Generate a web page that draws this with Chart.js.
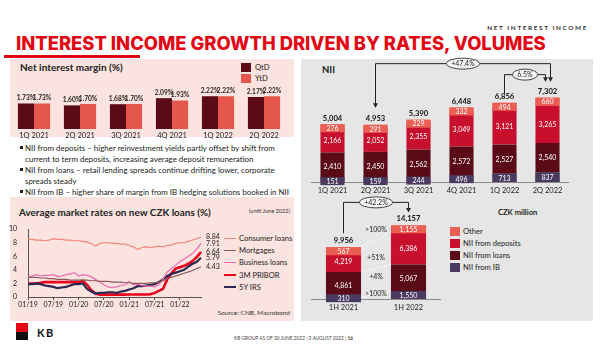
<!DOCTYPE html>
<html><head><meta charset="utf-8">
<script src="https://cdn.jsdelivr.net/npm/chart.js@4.4.0/dist/chart.umd.min.js"></script>
<style>
html,body{margin:0;padding:0}
body{width:600px;height:360px;position:relative;overflow:hidden;background:#fff;font-family:Lato,"Liberation Sans",sans-serif;color:#222}
.a{position:absolute;white-space:nowrap}
canvas{position:absolute}
.sq{position:absolute;width:10px;height:9px}
.lg{position:absolute;font-size:7.6px;line-height:10px}
.ln{position:absolute;width:12px}
.bul{position:absolute;font-size:7.7px;line-height:10px}
.dot{position:absolute;width:3px;height:3px;background:#222}
</style></head>
<body>
<div class="a" id="kicker" style="right:12px;top:24px;font-size:6.4px;font-weight:700;letter-spacing:1.6px;color:#333">NET INTEREST INCOME</div>
<div class="a" id="title" data-w="530" style="left:16px;top:33px;font-family:Inter,sans-serif;font-weight:800;font-size:18px;line-height:20px;color:#e30613">INTEREST INCOME GROWTH DRIVEN BY RATES, VOLUMES</div>
<div class="a" style="left:4px;top:55px;width:136px;height:3px;background:#e30613"></div>

<div class="a" style="left:10px;top:59px;width:284px;height:78px;background:#fbe3df"></div>
<div class="a" id="nimTitle" data-w="103" style="left:20px;top:61px;font-size:9.5px;font-weight:700;line-height:12px">Net interest margin (%)</div>
<div class="sq" style="left:241px;top:63px;background:#5a0b17"></div><div class="lg" style="left:255px;top:62px">QtD</div>
<div class="sq" style="left:241px;top:74px;background:#e5564b"></div><div class="lg" style="left:255px;top:73px">YtD</div>

<div class="dot" style="left:20px;top:146px"></div>
<div class="bul" id="b1" style="left:25px;top:143px">NII from deposits – higher reinvestment yields partly offset by shift from</div>
<div class="bul b" style="left:25px;top:154px">current to term deposits, increasing average deposit remuneration</div>
<div class="dot" style="left:20px;top:168px"></div>
<div class="bul b" style="left:25px;top:165px">NII from loans – retail lending spreads continue drifting lower, corporate</div>
<div class="bul b" style="left:25px;top:176px">spreads steady</div>
<div class="dot" style="left:20px;top:190px"></div>
<div class="bul b" style="left:25px;top:187px">NII from IB – higher share of margin from IB hedging solutions booked in NII</div>

<div class="a" style="left:10px;top:197px;width:284px;height:124px;background:#fbe3df"></div>
<div class="a" id="rateTitle" data-w="192" style="left:19px;top:206px;font-size:9.5px;font-weight:700;line-height:12px">Average market rates on new CZK loans (%)</div>
<div class="a" style="right:310px;top:207px;font-size:5.6px;line-height:7px;color:#333">(until June 2022)</div>
<div class="ln" style="left:224px;top:237.5px;height:1.2px;background:#f08676"></div><div class="lg" style="left:239px;top:233px">Consumer loans</div>
<div class="ln" style="left:224px;top:249.5px;height:1.2px;background:#8c5a5d"></div><div class="lg" style="left:239px;top:245px">Mortgages</div>
<div class="ln" style="left:224px;top:261.5px;height:1.2px;background:#f068ad"></div><div class="lg" style="left:239px;top:257px">Business loans</div>
<div class="ln" style="left:224px;top:273.5px;height:2.5px;background:#e8001c"></div><div class="lg" style="left:239px;top:269.5px">3M PRIBOR</div>
<div class="ln" style="left:224px;top:285.5px;height:2.2px;background:#2b2750"></div><div class="lg" style="left:239px;top:281.5px">5Y IRS</div>
<div class="a" style="right:310px;top:309px;font-size:6.5px;line-height:8px;color:#333">Source: CNB, Macrobond</div>

<div class="a" style="left:301px;top:59px;width:292px;height:262px;background:#e6e6e6"></div>
<div class="a" style="left:322px;top:64px;font-size:9.5px;font-weight:700;line-height:12px">NII</div>
<div class="a" style="left:498px;top:207px;font-size:7.6px;font-weight:700;line-height:10px">CZK million</div>
<div class="sq" style="left:450px;top:226.5px;background:#ec5d52"></div><div class="lg" style="left:463px;top:226px">Other</div>
<div class="sq" style="left:450px;top:238.5px;background:#c8102e"></div><div class="lg" style="left:463px;top:238px">NII from deposits</div>
<div class="sq" style="left:450px;top:250.5px;background:#5a0b17"></div><div class="lg" style="left:463px;top:250px">NII from loans</div>
<div class="sq" style="left:450px;top:262.5px;background:#4b3a5f"></div><div class="lg" style="left:463px;top:262px">NII from IB</div>

<canvas id="nim" width="276" height="56" style="left:11px;top:84px"></canvas>
<canvas id="nii" width="258" height="142" style="left:311px;top:54px"></canvas>
<canvas id="half" width="130" height="121" style="left:311px;top:192px"></canvas>
<canvas id="rates" width="219" height="86" style="left:6px;top:222px"></canvas>

<div class="a" style="left:16px;top:323px;width:12px;height:8.5px;background:#e30613"></div>
<div class="a" style="left:16px;top:331.5px;width:12px;height:8.5px;background:#111"></div>
<div class="a" style="left:37px;top:326px;font-size:11px;font-weight:700;letter-spacing:1.5px;line-height:13px;color:#111">KB</div>
<div class="a" style="left:234px;top:335px;font-size:4.8px;line-height:6px;color:#444">KB GROUP AS OF 30 JUNE 2022 | 3 AUGUST 2022 | <b>16</b></div>

<script>
// ---------- DATA ----------
const nimCategories = ['1Q 2021','2Q 2021','3Q 2021','4Q 2021','1Q 2022','2Q 2022'];
const nimQtD = [1.73, 1.60, 1.68, 2.09, 2.22, 2.17];
const nimYtD = [1.73, 1.70, 1.70, 1.93, 2.22, 2.22];

const niiQuarters = ['1Q 2021','2Q 2021','3Q 2021','4Q 2021','1Q 2022','2Q 2022'];
const niiIB       = [151, 159, 244, 496, 713, 837];
const niiLoans    = [2410, 2450, 2562, 2572, 2527, 2540];
const niiDeposits = [2166, 2052, 2355, 3049, 3121, 3265];
const niiOther    = [276, 291, 229, 332, 494, 660];
const niiTotals   = [5004, 4953, 5390, 6448, 6856, 7302];
const niiGrowthLong = '+47.4%';
const niiGrowthQoQ  = '6.5%';

const halfYears   = ['1H 2021','1H 2022'];
const halfIB       = [310, 1550];
const halfLoans    = [4861, 5067];
const halfDeposits = [4219, 6386];
const halfOther    = [567, 1155];
const halfTotals   = [9956, 14157];
const halfGrowth   = '+42.2%';
const halfChanges  = ['>100%', '+4%', '+51%', '>100%']; // IB, loans, deposits, other

const rateMonths = ['01/19','02/19','03/19','04/19','05/19','06/19','07/19','08/19','09/19','10/19','11/19','12/19',
  '01/20','02/20','03/20','04/20','05/20','06/20','07/20','08/20','09/20','10/20','11/20','12/20',
  '01/21','02/21','03/21','04/21','05/21','06/21','07/21','08/21','09/21','10/21','11/21','12/21',
  '01/22','02/22','03/22','04/22','05/22','06/22'];
const consumerLoans = [8.5,8.5,8.4,8.4,8.3,8.4,8.6,8.5,8.5,8.4,8.4,8.3,
  8.3,8.2,8.1,7.9,7.5,7.9,8.0,8.0,7.9,7.9,7.8,7.8,
  7.6,7.4,7.0,7.3,7.4,7.3,7.4,7.5,7.4,7.6,7.7,7.9,
  8.0,8.0,8.2,8.4,8.6,8.84];
const mortgages = [2.9,2.9,2.9,2.8,2.8,2.7,2.7,2.6,2.6,2.6,2.5,2.5,
  2.5,2.5,2.5,2.4,2.4,2.3,2.3,2.3,2.2,2.2,2.2,2.1,
  2.1,2.0,2.0,2.0,2.0,2.1,2.1,2.2,2.4,2.7,2.9,3.1,
  3.3,3.5,3.7,3.9,4.2,4.43];
const businessLoans = [3.0,3.1,3.3,3.1,3.2,3.2,3.3,3.0,3.1,3.3,3.4,3.6,
  3.1,3.3,3.2,3.0,2.6,2.2,1.8,1.5,1.4,1.5,1.7,1.8,
  2.3,1.8,1.9,1.7,1.6,1.6,1.5,1.8,2.6,3.7,4.2,4.7,
  5.2,5.6,6.0,6.4,7.1,7.91];
const pribor3M = [2.0,2.0,2.0,2.1,2.2,2.2,2.2,2.2,2.2,2.2,2.2,2.2,
  2.2,2.4,1.8,1.0,0.5,0.35,0.35,0.35,0.35,0.35,0.35,0.35,
  0.36,0.36,0.36,0.36,0.37,0.4,0.6,0.9,1.2,2.6,3.5,4.2,
  4.4,4.6,4.9,5.3,5.9,6.64];
const irs5Y = [1.9,1.9,2.0,1.9,1.7,1.6,1.5,1.3,1.4,1.5,1.7,1.9,
  1.9,2.0,1.2,0.8,0.5,0.6,0.6,0.7,0.7,0.6,0.8,0.9,
  1.1,1.3,1.6,1.6,1.7,1.8,1.9,2.2,2.6,3.1,3.4,3.6,
  3.8,4.0,4.5,4.9,5.2,5.79];

// ---------- STYLE ----------
const C = {qtd:'#5a0b17', ytd:'#e5564b', ib:'#4b3a5f', loans:'#5a0b17', dep:'#c8102e', other:'#ec5d52',
  consumer:'#f08676', mort:'#8c5a5d', bus:'#f068ad', pribor:'#e8001c', irs:'#2b2750'};
const FONT = 'Lato, "Liberation Sans", sans-serif';
Chart.defaults.font.family = FONT;
Chart.defaults.color = '#222';
Chart.defaults.animation = false;
Chart.defaults.plugins.legend.display = false;
Chart.defaults.plugins.tooltip.enabled = false;
const fmt = v => v.toLocaleString('en-US');

// fit text widths
function fit(el, w){ const r = el.getBoundingClientRect().width; const fs = parseFloat(getComputedStyle(el).fontSize); el.style.fontSize = (fs*w/r)+'px'; }
fit(document.getElementById('title'), 530);
fit(document.getElementById('nimTitle'), 103);
fit(document.getElementById('rateTitle'), 192);
(function(){ const b1 = document.getElementById('b1'); const r = b1.getBoundingClientRect().width; const fs = parseFloat(getComputedStyle(b1).fontSize); const nf = fs*250/r; document.querySelectorAll('.bul').forEach(e=>e.style.fontSize = nf+'px'); })();

// ---------- NIM ----------
const nimLabels = {id:'nimLabels', afterDatasetsDraw(chart){
  const ctx = chart.ctx; ctx.save();
  ctx.font = 'bold 6.6px '+FONT; ctx.fillStyle = '#222'; ctx.textAlign='center'; ctx.textBaseline='bottom';
  chart.data.datasets.forEach((d,di)=>{ chart.getDatasetMeta(di).data.forEach((b,i)=>{
    ctx.fillText(d.data[i].toFixed(2)+'%', b.x, b.y-2); }); });
  ctx.restore(); }};
new Chart(document.getElementById('nim'), {type:'bar',
  data:{labels:nimCategories, datasets:[
    {label:'QtD', data:nimQtD, backgroundColor:C.qtd, categoryPercentage:0.7, barPercentage:1},
    {label:'YtD', data:nimYtD, backgroundColor:C.ytd, categoryPercentage:0.7, barPercentage:1}]},
  options:{responsive:false, devicePixelRatio:1, layout:{padding:0},
    scales:{x:{grid:{display:false, drawTicks:false}, border:{display:false}, ticks:{font:{size:7.5}, padding:2, color:'#222'}, afterFit:s=>{s.height=11;}},
            y:{display:false, min:0, max:3.05}}},
  plugins:[nimLabels]});

// ---------- shared stacked-bar helpers ----------
function segLabels(chart, fontSize){
  const ctx = chart.ctx;
  chart.data.datasets.forEach((d,di)=>{ chart.getDatasetMeta(di).data.forEach((b,i)=>{
    const top=b.y, base=b.base, h=base-top, w=b.width;
    let cy=(top+base)/2;
    if (d.box){ const bh=Math.max(h, 8); let y0 = d.box==='top' ? top : cy-bh/2; ctx.fillStyle=d.backgroundColor; ctx.fillRect(b.x-w/2, y0, w, bh); cy = y0+bh/2; }
    ctx.fillStyle='#fff'; ctx.font=fontSize+'px '+FONT; ctx.textAlign='center'; ctx.textBaseline='middle';
    ctx.fillText(fmt(d.data[i]), b.x, cy+0.5);
  }); });
}
function totals(chart, vals, off){
  const ctx=chart.ctx; const last=chart.getDatasetMeta(chart.data.datasets.length-1);
  ctx.font='bold 7.6px '+FONT; ctx.fillStyle='#111'; ctx.textAlign='center'; ctx.textBaseline='middle';
  last.data.forEach((b,i)=>ctx.fillText(fmt(vals[i]), b.x, b.y-off));
}
function arrowHead(ctx,x,y){ ctx.beginPath(); ctx.moveTo(x,y); ctx.lineTo(x-2.5,y-4.5); ctx.lineTo(x+2.5,y-4.5); ctx.closePath(); ctx.fill(); }
function bracket(chart, a, b, text, o){
  const ctx=chart.ctx; const last=chart.getDatasetMeta(chart.data.datasets.length-1).data;
  let hi=Infinity; for(let i=a;i<=b;i++) hi=Math.min(hi,last[i].y);
  const lvl=hi-o.rise; const x1=last[a].x+(o.dx1||0), x2=last[b].x+(o.dx2||0);
  const y1=last[a].y-o.drop1, y2=last[b].y-o.drop2;
  ctx.strokeStyle='#222'; ctx.fillStyle='#222'; ctx.lineWidth=1;
  ctx.beginPath(); ctx.moveTo(x1,y1-(o.arrow1?4:0)); ctx.lineTo(x1,lvl); ctx.lineTo(x2,lvl); ctx.lineTo(x2,y2-(o.arrow2?4:0)); ctx.stroke();
  if(o.arrow1) arrowHead(ctx,x1,y1);
  if(o.arrow2) arrowHead(ctx,x2,y2);
  ctx.font='7px '+FONT; const tw=ctx.measureText(text).width;
  const cx=(x1+x2)/2; ctx.beginPath(); ctx.ellipse(cx,lvl,tw/2+5,5.5,0,0,Math.PI*2); ctx.fillStyle='#f6f6f6'; ctx.fill(); ctx.strokeStyle='#333'; ctx.lineWidth=0.9; ctx.stroke();
  ctx.fillStyle='#222'; ctx.textAlign='center'; ctx.textBaseline='middle'; ctx.fillText(text,cx,lvl+0.5);
}
const stackX = {stacked:true, grid:{display:false, drawTicks:false}, border:{color:'#8a8a8a', width:1}, ticks:{font:{size:7.5}, padding:4, color:'#222'}, afterFit:s=>{s.height=14;}};

// ---------- NII quarterly ----------
const niiPlugin = {id:'niiPlugin', afterDatasetsDraw(chart){
  const ctx=chart.ctx; ctx.save();
  segLabels(chart, 7);
  totals(chart, niiTotals, 6);
  const last=chart.getDatasetMeta(3).data;
  bracket(chart, 1, 5, niiGrowthLong, {rise:34, drop1:17, drop2:16, dx1:0, dx2:3, arrow1:true, arrow2:true});
  bracket(chart, 4, 5, niiGrowthQoQ, {rise:23, drop1:9, drop2:16, dx1:0, dx2:-2, arrow1:false, arrow2:true});
  ctx.restore(); }};
new Chart(document.getElementById('nii'), {type:'bar',
  data:{labels:niiQuarters, datasets:[
    {label:'NII from IB', data:niiIB, backgroundColor:C.ib, box:'center'},
    {label:'NII from loans', data:niiLoans, backgroundColor:C.loans},
    {label:'NII from deposits', data:niiDeposits, backgroundColor:C.dep},
    {label:'Other', data:niiOther, backgroundColor:C.other, box:'top'}].map(d=>Object.assign(d,{categoryPercentage:0.56, barPercentage:1}))},
  options:{responsive:false, devicePixelRatio:1, layout:{padding:0},
    scales:{x:stackX, y:{stacked:true, display:false, min:0, max:11080}}},
  plugins:[niiPlugin]});

// ---------- NII half-year ----------
const halfPlugin = {id:'halfPlugin', afterDatasetsDraw(chart){
  const ctx=chart.ctx; ctx.save();
  // connectors between segment boundaries
  ctx.strokeStyle='#ffffff'; ctx.lineWidth=0.9; ctx.setLineDash([2,1.5]);
  const metas = chart.data.datasets.map((d,i)=>chart.getDatasetMeta(i).data);
  metas.forEach(m=>{ const a=m[0], b=m[1];
    ctx.beginPath(); ctx.moveTo(a.x+a.width/2, a.y); ctx.lineTo(b.x-b.width/2, b.y); ctx.stroke(); });
  ctx.setLineDash([]);
  segLabels(chart, 7);
  totals(chart, halfTotals, 7);
  // change labels
  ctx.font='7px '+FONT; ctx.fillStyle='#222'; ctx.textAlign='center'; ctx.textBaseline='middle';
  metas.forEach((m,i)=>{ const a=m[0], b=m[1]; const cx=(a.x+b.x)/2;
    let cy = i===3 ? (a.y+b.y)/2-7 : ((a.y+a.base)/2+(b.y+b.base)/2)/2 + (i===0?-3:(i===1?-5:3));
    ctx.fillText(halfChanges[i], cx, cy); });
  bracket(chart, 0, 1, halfGrowth, {rise:23, drop1:14, drop2:13, arrow1:false, arrow2:true});
  ctx.restore(); }};
new Chart(document.getElementById('half'), {type:'bar',
  data:{labels:halfYears, datasets:[
    {label:'NII from IB', data:halfIB, backgroundColor:C.ib, box:'center'},
    {label:'NII from loans', data:halfLoans, backgroundColor:C.loans},
    {label:'NII from deposits', data:halfDeposits, backgroundColor:C.dep},
    {label:'Other', data:halfOther, backgroundColor:C.other, box:'top'}].map(d=>Object.assign(d,{categoryPercentage:0.54, barPercentage:1}))},
  options:{responsive:false, devicePixelRatio:1, layout:{padding:0},
    scales:{x:stackX, y:{stacked:true, display:false, min:0, max:20580}}},
  plugins:[halfPlugin]});

// ---------- Rates ----------
const endLabels = {id:'endLabels', afterDatasetsDraw(chart){
  const ctx=chart.ctx, y=chart.scales.y; ctx.save();
  ctx.font='7px '+FONT; ctx.fillStyle='#222'; ctx.textAlign='left'; ctx.textBaseline='middle';
  chart.data.datasets.forEach(d=>{ const v=d.data[d.data.length-1]; ctx.fillText(v.toFixed(2), chart.chartArea.right+5, y.getPixelForValue(v)); });
  ctx.restore(); }};
new Chart(document.getElementById('rates'), {type:'line',
  data:{labels:rateMonths, datasets:[
    {label:'Consumer loans', data:consumerLoans, borderColor:C.consumer, borderWidth:1.2},
    {label:'Mortgages', data:mortgages, borderColor:C.mort, borderWidth:1.2},
    {label:'Business loans', data:businessLoans, borderColor:C.bus, borderWidth:1.2},
    {label:'5Y IRS', data:irs5Y, borderColor:C.irs, borderWidth:2.2},
    {label:'3M PRIBOR', data:pribor3M, borderColor:C.pribor, borderWidth:2.6}].map(d=>Object.assign(d,{pointRadius:0, tension:0, fill:false}))},
  options:{responsive:false, devicePixelRatio:1, layout:{padding:{top:5, right:24, left:0, bottom:0}},
    scales:{
      x:{grid:{display:true, drawOnChartArea:false, tickLength:3, color:c=>(c.index%6===0?'#555':'rgba(0,0,0,0)')}, border:{color:'#555'},
         ticks:{autoSkip:false, maxRotation:0, font:{size:7}, padding:1, color:'#222', callback:(v,i)=>(i%6===0?rateMonths[i]:'')}, afterFit:s=>{s.height=11;}},
      y:{min:0, max:10, grid:{display:false}, border:{color:'#555'}, ticks:{stepSize:2, font:{size:7}, padding:3, color:'#222'}, afterFit:s=>{s.width=22;}}}},
  plugins:[endLabels]});
</script>
</body></html>
